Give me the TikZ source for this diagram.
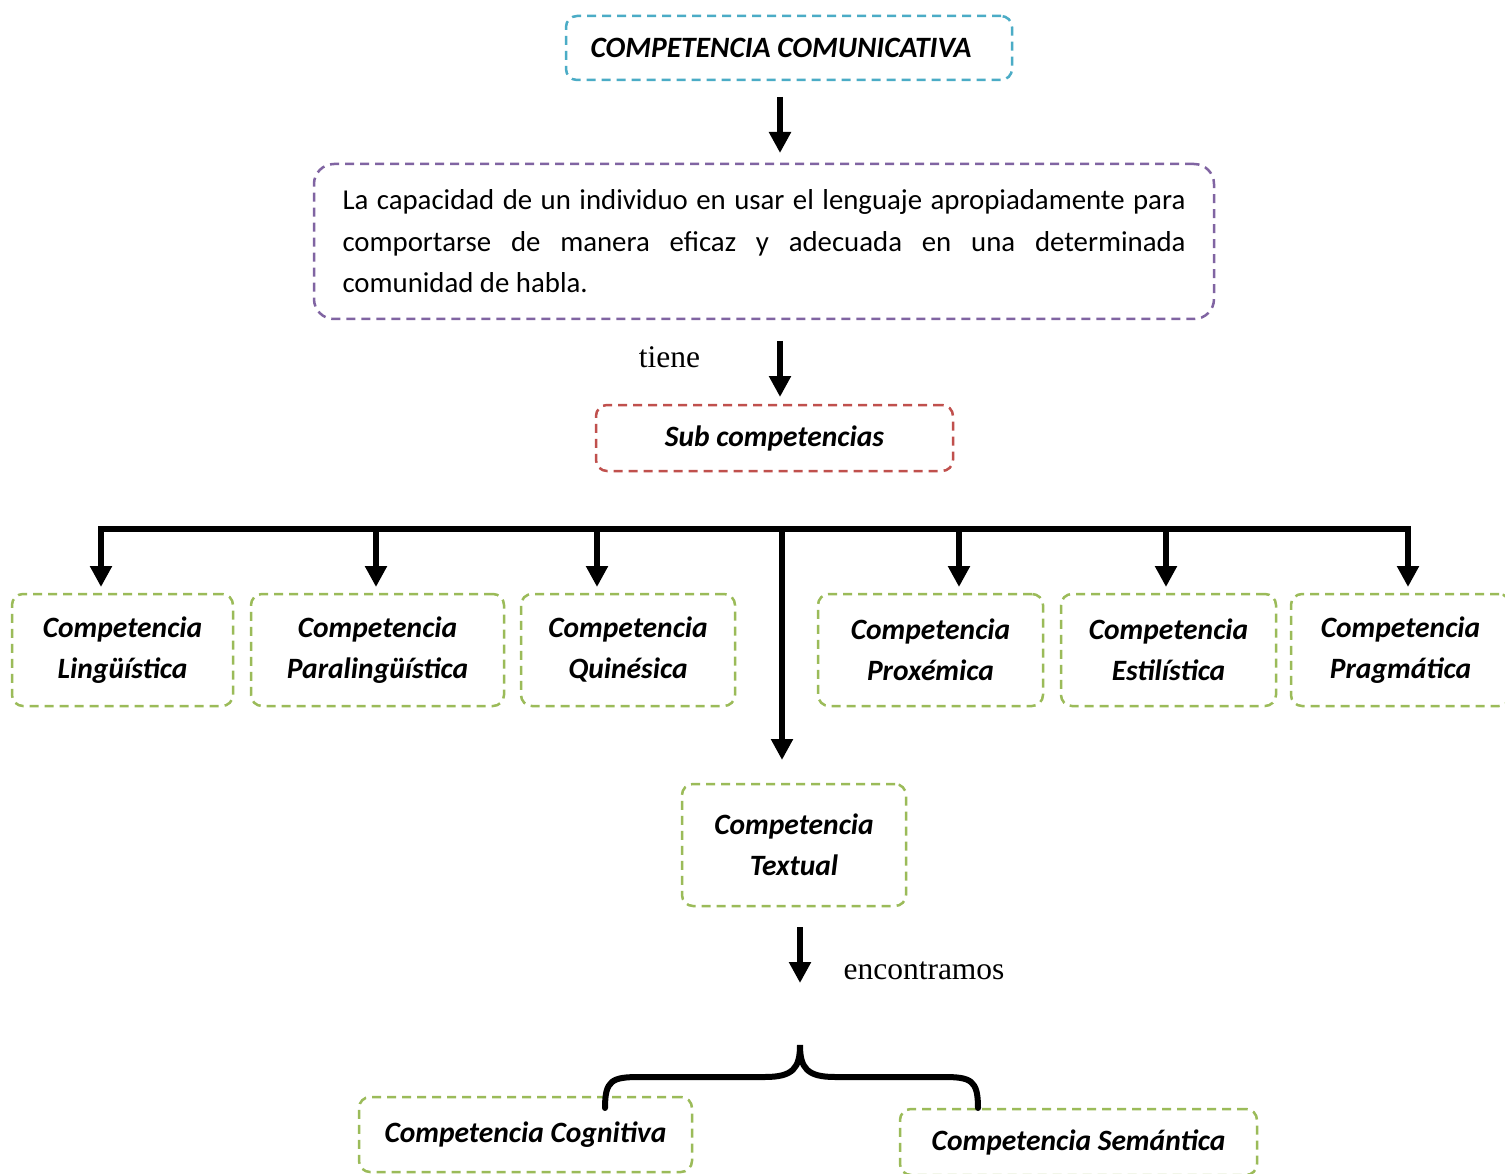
\documentclass[tikz,border=0pt]{standalone}
\usepackage{fontspec}
\setmainfont{Carlito}
\newfontfamily\tnr{Liberation Serif}
\usetikzlibrary{arrows.meta}
\definecolor{ccyan}{HTML}{4BACC6}
\definecolor{cpurple}{HTML}{8064A2}
\definecolor{cred}{HTML}{C0504D}
\definecolor{cgreen}{HTML}{9BBB59}
\begin{document}
\begin{tikzpicture}[x=1pt,y=-1pt,
  dbox/.style={draw, line width=2.5pt, dash pattern=on 9pt off 6pt, rounded corners=11pt, align=center, inner sep=0pt},
  bi/.style={font=\fontsize{29.5}{41}\selectfont\bfseries\itshape},
  gbox/.style={dbox, cgreen, text=black, bi, minimum height=112pt},
  arr/.style={line width=5.5pt, -{Triangle[width=21pt,length=21pt]}},
  lbl/.style={font=\tnr\fontsize{31.5}{36}\selectfont, inner sep=0pt}
]
\useasboundingbox (0,0) rectangle (1505,1174);
\clip (0,0) rectangle (1505,1174);
\fill[white] (0,0) rectangle (1505,1174);

% main boxes
\node[dbox, ccyan, text=black, bi, minimum width=446pt, minimum height=64pt] (top) at (789,48) {COMPETENCIA COMUNICATIVA\hspace*{16pt}};
\node[dbox, cpurple, text=black, rounded corners=20pt, minimum width=900pt, minimum height=155pt] (def) at (764,241.5)
  {\parbox{843pt}{\fontsize{28.8}{41.5}\selectfont\parindent=0pt La capacidad de un individuo en usar el lenguaje apropiadamente para\linebreak comportarse de manera eficaz y adecuada en una determinada\linebreak comunidad de habla.}};
\node[dbox, cred, text=black, bi, minimum width=357pt, minimum height=66pt] (sub) at (774.5,438) {Sub competencias};

% row of sub competences
\node[gbox, minimum width=221pt] (lin) at (122.5,650) {Competencia\\Lingüística};
\node[gbox, minimum width=253pt] (para) at (377.5,650) {Competencia\\Paralingüística};
\node[gbox, minimum width=214pt] (quin) at (628,650) {Competencia\\Quinésica};
\node[gbox, minimum width=225pt] (prox) at (930.5,650) {Competencia\\Proxémica};
\node[gbox, minimum width=215pt] (esti) at (1168.5,650) {Competencia\\Estilística};
\node[gbox, minimum width=219pt] (prag) at (1400.5,650) {Competencia\\Pragmática};
\node[gbox, minimum width=224pt, minimum height=122pt] (text) at (794,845) {Competencia\\Textual};

% bottom boxes
\node[gbox, minimum width=333pt, minimum height=75pt] (cog) at (525.5,1134.5) {Competencia Cognitiva};
\node[gbox, minimum width=357pt, minimum height=66pt] (sem) at (1078.5,1142) {Competencia Semántica};

% labels
\node[lbl] (tiene) at (669.5,357) {tiene};
\node[lbl] (enc) at (924,971) {encontramos};

% coordinates for connectors
\coordinate (a1s) at (780,97);  \coordinate (a1e) at (780,153);
\coordinate (a2s) at (780,341); \coordinate (a2e) at (780,397);
\coordinate (a3s) at (800,927); \coordinate (a3e) at (800,983);
\coordinate (bl) at (101,529);  \coordinate (br) at (1408,529);
\coordinate (bc) at (782,529);

\draw[arr] (a1s) -- (a1e);
\draw[arr] (a2s) -- (a2e);
\draw[arr] (a3s) -- (a3e);

% distribution bar
\draw[line width=6pt, line cap=rect] (bl) -- (br);
\draw[arr] ([yshift=3pt]bl) -- (bl |- 0,587);
\draw[arr] ([yshift=3pt]br) -- (br |- 0,587);
\foreach \n/\x in {para/376, quin/597, prox/959, esti/1166}
  \draw[arr] (\x,529) -- (\x,587);
\draw[arr] (bc) -- (bc |- 0,760);

% brace
\coordinate (brl) at (605,1108);
\coordinate (brr) at (978,1108);
\coordinate (brt) at (800,1045);
\draw[line width=6pt, line cap=round]
  (brl) .. controls (605,1080) and (612,1077) .. (640,1077) -- (765,1077)
  .. controls (793,1077) and (800,1068) .. (brt)
  .. controls (800,1068) and (807,1077) .. (835,1077) -- (943,1077)
  .. controls (971,1077) and (978,1080) .. (brr);
\end{tikzpicture}
\end{document}
